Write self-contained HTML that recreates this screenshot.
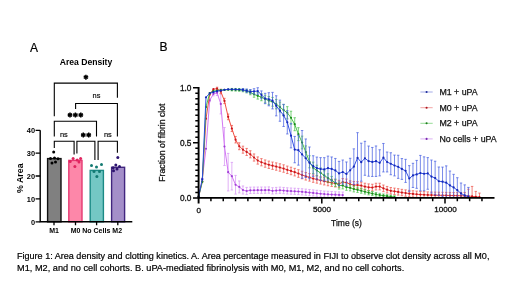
<!DOCTYPE html>
<html><head><meta charset="utf-8"><style>
html,body{margin:0;padding:0;background:#fff;width:520px;height:291px;overflow:hidden}
svg{display:block;filter:blur(0.3px)}
text{font-family:"Liberation Sans",sans-serif}
</style></head><body>
<svg width="520" height="291" viewBox="0 0 520 291">
<rect width="520" height="291" fill="#fff"/>
<!-- Panel labels -->
<text x="29.9" y="51.6" font-size="12" fill="#000" stroke="#000" stroke-width="0.2">A</text>
<text x="159.4" y="51.4" font-size="12" fill="#000" stroke="#000" stroke-width="0.2">B</text>
<!-- Panel A -->
<text x="86" y="64.6" font-size="8.6" font-weight="bold" text-anchor="middle">Area Density</text>
<g stroke="#000" stroke-width="1.1" fill="none">
<path d="M54.3 116.3V83.1H117.4V97.8"/>
<path d="M75.6 109V103.5H117.4V136.6"/>
<path d="M54.3 136.4V121.2H96.5V136.4"/>
<path d="M54.3 147.9V141.3H74.1V154.4"/>
<path d="M76.9 153.6V141.3H94.9V160.1"/>
<path d="M98.1 160.1V141.3H117.4V152.8"/>
</g>
<g font-size="7.4" text-anchor="middle" fill="#000" stroke="#000" stroke-width="0.15">
<text x="96.5" y="98.4">ns</text>
<text x="63.8" y="137">ns</text>
<text x="107.9" y="137">ns</text>
</g>
<path d="M85.90 74.70L85.90 79.70M83.73 75.95L88.07 78.45M83.73 78.45L88.07 75.95M70.00 112.50L70.00 117.50M67.83 113.75L72.17 116.25M67.83 116.25L72.17 113.75M75.40 112.50L75.40 117.50M73.23 113.75L77.57 116.25M73.23 116.25L77.57 113.75M80.80 112.50L80.80 117.50M78.63 113.75L82.97 116.25M78.63 116.25L82.97 113.75M83.30 132.50L83.30 137.50M81.13 133.75L85.47 136.25M81.13 136.25L85.47 133.75M88.70 132.50L88.70 137.50M86.53 133.75L90.87 136.25M86.53 136.25L90.87 133.75" stroke="#000" stroke-width="1.5" fill="none"/>
<!-- bars -->
<g stroke-width="1.4">
<rect x="47.6" y="158.6" width="13.4" height="63.2" fill="#808080" stroke="#111"/>
<rect x="68.8" y="160.4" width="13.2" height="61.4" fill="#fd87a9" stroke="#e63a73"/>
<rect x="90.2" y="170.4" width="13.2" height="51.4" fill="#74c7c4" stroke="#1b8a85"/>
<rect x="111.6" y="167.3" width="13" height="54.5" fill="#a48fc9" stroke="#42267f"/>
</g>
<!-- dots -->
<g fill="#000"><circle cx="53.7" cy="152" r="1.5"/><circle cx="50.5" cy="158.5" r="1.5"/><circle cx="54.5" cy="158" r="1.5"/><circle cx="58" cy="158.8" r="1.5"/><circle cx="52" cy="163" r="1.5"/><circle cx="55.5" cy="162" r="1.5"/></g>
<g fill="#e0245f"><circle cx="73.1" cy="158.5" r="1.5"/><circle cx="77.2" cy="159.9" r="1.5"/><circle cx="80.6" cy="158.5" r="1.5"/><circle cx="70.2" cy="161.5" r="1.5"/><circle cx="74.9" cy="166.5" r="1.5"/><circle cx="79" cy="162" r="1.5"/></g>
<g fill="#137a72"><circle cx="91.5" cy="165.4" r="1.5"/><circle cx="96.5" cy="167" r="1.5"/><circle cx="101.5" cy="164.6" r="1.5"/><circle cx="96.9" cy="176.5" r="1.5"/><circle cx="94" cy="171.5" r="1.5"/><circle cx="99.5" cy="171.5" r="1.5"/></g>
<g fill="#2e1570"><circle cx="117.8" cy="157.6" r="1.5"/><circle cx="115.8" cy="165" r="1.5"/><circle cx="113.1" cy="167.7" r="1.5"/><circle cx="119.5" cy="166.5" r="1.5"/><circle cx="113.5" cy="170.8" r="1.5"/><circle cx="117" cy="169" r="1.5"/></g>
<!-- axes A -->
<path d="M40.2 130.3V221.8H132.3" stroke="#000" stroke-width="1.4" fill="none"/>
<path d="M35.6 130.3H40.2M35.6 153.2H40.2M35.6 176H40.2M35.6 198.9H40.2M35.6 221.8H40.2M54 221.8V225.2M75.5 221.8V225.2M96.6 221.8V225.2M117.8 221.8V225.2" stroke="#000" stroke-width="1.3" fill="none"/>
<g font-size="7.4" font-weight="bold" text-anchor="end" fill="#000">
<text x="35" y="133">40</text><text x="35" y="155.9">30</text><text x="35" y="178.7">20</text><text x="35" y="201.6">10</text><text x="35" y="224.5">0</text>
</g>
<g font-size="7" font-weight="bold" text-anchor="middle" fill="#000">
<text x="54" y="233.1">M1</text><text x="75.6" y="233.1">M0</text><text x="96.3" y="233.1">No Cells</text><text x="117.2" y="233.1">M2</text>
</g>
<text transform="translate(22.8,178.2) rotate(-90)" font-size="8.8" font-weight="bold" text-anchor="middle">% Area</text>
<!-- Panel B -->
<path d="M209.69 99.01V101.68M208.49 99.01h2.4M208.49 101.68h2.4M213.38 92.12V95.81M212.18 92.12h2.4M212.18 95.81h2.4M217.08 89.96V95.50M215.88 89.96h2.4M215.88 95.50h2.4M220.78 93.83V113.93M219.58 93.83h2.4M219.58 113.93h2.4M224.47 127.52V165.52M223.27 127.52h2.4M223.27 165.52h2.4M228.17 153.40V190.95M226.97 153.40h2.4M226.97 190.95h2.4M231.86 162.40V190.00M230.66 162.40h2.4M230.66 190.00h2.4M235.56 175.40V194.10M234.36 175.40h2.4M234.36 194.10h2.4M239.26 180.96V192.90M238.06 180.96h2.4M238.06 192.90h2.4M242.95 185.99V194.04M241.75 185.99h2.4M241.75 194.04h2.4M246.65 187.40V194.57M245.45 187.40h2.4M245.45 194.57h2.4M250.34 187.13V193.53M249.14 187.13h2.4M249.14 193.53h2.4M254.04 187.06V193.44M252.84 187.06h2.4M252.84 193.44h2.4M257.74 187.02V193.38M256.54 187.02h2.4M256.54 193.38h2.4M261.43 187.03V193.37M260.23 187.03h2.4M260.23 193.37h2.4M265.13 187.01V193.34M263.93 187.01h2.4M263.93 193.34h2.4M268.82 186.89V193.21M267.62 186.89h2.4M267.62 193.21h2.4M272.52 187.71V194.01M271.32 187.71h2.4M271.32 194.01h2.4M276.22 187.40V193.69M275.02 187.40h2.4M275.02 193.69h2.4M279.91 187.10V193.36M278.71 187.10h2.4M278.71 193.36h2.4M283.61 187.45V193.70M282.41 187.45h2.4M282.41 193.70h2.4M287.30 187.79V194.03M286.10 187.79h2.4M286.10 194.03h2.4M291.00 188.00V194.22M289.80 188.00h2.4M289.80 194.22h2.4M294.70 188.21V194.41M293.50 188.21h2.4M293.50 194.41h2.4M298.39 188.42V194.61M297.19 188.42h2.4M297.19 194.61h2.4M302.09 188.72V194.89M300.89 188.72h2.4M300.89 194.89h2.4M305.78 189.10V195.25M304.58 189.10h2.4M304.58 195.25h2.4M309.48 189.48V195.62M308.28 189.48h2.4M308.28 195.62h2.4M313.18 189.88V196.00M311.98 189.88h2.4M311.98 196.00h2.4M316.87 190.28V196.38M315.67 190.28h2.4M315.67 196.38h2.4M320.57 190.68V196.77M319.37 190.68h2.4M319.37 196.77h2.4M324.26 191.09V197.16M323.06 191.09h2.4M323.06 197.16h2.4M327.96 191.32V197.37M326.76 191.32h2.4M326.76 197.37h2.4M331.66 191.51V197.55M330.46 191.51h2.4M335.35 191.71V197.73M334.15 191.71h2.4M339.05 191.88V197.88M337.85 191.88h2.4M342.74 192.04V197.90M341.54 192.04h2.4" stroke="#d898f4" stroke-width="0.85" fill="none" opacity="0.9"/>
<polyline points="198.60,197.60 202.30,178.52 205.99,148.77 209.69,100.35 213.38,93.97 217.08,92.73 220.78,103.88 224.47,146.52 228.17,172.17 231.86,176.20 235.56,184.75 239.26,186.93 242.95,190.01 246.65,190.99 250.34,190.33 254.04,190.25 257.74,190.20 261.43,190.20 265.13,190.17 268.82,190.05 272.52,190.86 276.22,190.54 279.91,190.23 283.61,190.57 287.30,190.91 291.00,191.11 294.70,191.31 298.39,191.51 302.09,191.81 305.78,192.18 309.48,192.55 313.18,192.94 316.87,193.33 320.57,193.73 324.26,194.12 327.96,194.35 331.66,194.53 335.35,194.72 339.05,194.88 342.74,195.04" stroke="#d070f2" stroke-width="0.95" fill="none" stroke-linejoin="round"/>
<g fill="#a040d6"><circle cx="198.60" cy="197.60" r="1.1"/><circle cx="202.30" cy="178.52" r="1.1"/><circle cx="205.99" cy="148.77" r="1.1"/><circle cx="209.69" cy="100.35" r="1.1"/><circle cx="213.38" cy="93.97" r="1.1"/><circle cx="217.08" cy="92.73" r="1.1"/><circle cx="220.78" cy="103.88" r="1.1"/><circle cx="224.47" cy="146.52" r="1.1"/><circle cx="228.17" cy="172.17" r="1.1"/><circle cx="231.86" cy="176.20" r="1.1"/><circle cx="235.56" cy="184.75" r="1.1"/><circle cx="239.26" cy="186.93" r="1.1"/><circle cx="242.95" cy="190.01" r="1.1"/><circle cx="246.65" cy="190.99" r="1.1"/><circle cx="250.34" cy="190.33" r="1.1"/><circle cx="254.04" cy="190.25" r="1.1"/><circle cx="257.74" cy="190.20" r="1.1"/><circle cx="261.43" cy="190.20" r="1.1"/><circle cx="265.13" cy="190.17" r="1.1"/><circle cx="268.82" cy="190.05" r="1.1"/><circle cx="272.52" cy="190.86" r="1.1"/><circle cx="276.22" cy="190.54" r="1.1"/><circle cx="279.91" cy="190.23" r="1.1"/><circle cx="283.61" cy="190.57" r="1.1"/><circle cx="287.30" cy="190.91" r="1.1"/><circle cx="291.00" cy="191.11" r="1.1"/><circle cx="294.70" cy="191.31" r="1.1"/><circle cx="298.39" cy="191.51" r="1.1"/><circle cx="302.09" cy="191.81" r="1.1"/><circle cx="305.78" cy="192.18" r="1.1"/><circle cx="309.48" cy="192.55" r="1.1"/><circle cx="313.18" cy="192.94" r="1.1"/><circle cx="316.87" cy="193.33" r="1.1"/><circle cx="320.57" cy="193.73" r="1.1"/><circle cx="324.26" cy="194.12" r="1.1"/><circle cx="327.96" cy="194.35" r="1.1"/><circle cx="331.66" cy="194.53" r="1.1"/><circle cx="335.35" cy="194.72" r="1.1"/><circle cx="339.05" cy="194.88" r="1.1"/><circle cx="342.74" cy="195.04" r="1.1"/></g>
<path d="M217.08 87.22V90.11M215.88 87.22h2.4M215.88 90.11h2.4M220.78 89.21V93.69M219.58 89.21h2.4M219.58 93.69h2.4M224.47 98.32V103.60M223.27 98.32h2.4M223.27 103.60h2.4M228.17 114.02V119.71M226.97 114.02h2.4M226.97 119.71h2.4M231.86 125.44V131.53M230.66 125.44h2.4M230.66 131.53h2.4M235.56 136.44V142.94M234.36 136.44h2.4M234.36 142.94h2.4M239.26 142.79V149.71M238.06 142.79h2.4M238.06 149.71h2.4M242.95 146.16V153.19M241.75 146.16h2.4M241.75 153.19h2.4M246.65 148.42V155.49M245.45 148.42h2.4M245.45 155.49h2.4M250.34 150.75V157.86M249.14 150.75h2.4M249.14 157.86h2.4M254.04 153.95V161.09M252.84 153.95h2.4M252.84 161.09h2.4M257.74 156.93V164.11M256.54 156.93h2.4M256.54 164.11h2.4M261.43 158.63V165.84M260.23 158.63h2.4M260.23 165.84h2.4M265.13 159.97V167.22M263.93 159.97h2.4M263.93 167.22h2.4M268.82 161.12V168.41M267.62 161.12h2.4M267.62 168.41h2.4M272.52 162.04V169.36M271.32 162.04h2.4M271.32 169.36h2.4M276.22 162.86V170.22M275.02 162.86h2.4M275.02 170.22h2.4M279.91 163.80V171.20M278.71 163.80h2.4M278.71 171.20h2.4M283.61 164.82V172.26M282.41 164.82h2.4M282.41 172.26h2.4M287.30 166.09V173.56M286.10 166.09h2.4M286.10 173.56h2.4M291.00 167.21V174.72M289.80 167.21h2.4M289.80 174.72h2.4M294.70 168.37V175.92M293.50 168.37h2.4M293.50 175.92h2.4M298.39 169.73V177.31M297.19 169.73h2.4M297.19 177.31h2.4M302.09 171.22V178.79M300.89 171.22h2.4M300.89 178.79h2.4M305.78 172.53V180.06M304.58 172.53h2.4M304.58 180.06h2.4M309.48 173.62V181.10M308.28 173.62h2.4M308.28 181.10h2.4M313.18 174.87V182.31M311.98 174.87h2.4M311.98 182.31h2.4M316.87 175.78V183.17M315.67 175.78h2.4M315.67 183.17h2.4M320.57 176.70V184.05M319.37 176.70h2.4M319.37 184.05h2.4M324.26 177.62V184.93M323.06 177.62h2.4M323.06 184.93h2.4M327.96 178.49V185.75M326.76 178.49h2.4M326.76 185.75h2.4M331.66 179.22V186.44M330.46 179.22h2.4M330.46 186.44h2.4M335.35 179.85V187.02M334.15 179.85h2.4M334.15 187.02h2.4M339.05 180.31V187.44M337.85 180.31h2.4M337.85 187.44h2.4M342.74 178.56V185.65M341.54 178.56h2.4M341.54 185.65h2.4M346.44 179.07V186.11M345.24 179.07h2.4M345.24 186.11h2.4M350.14 180.75V187.75M348.94 180.75h2.4M348.94 187.75h2.4M353.83 181.52V188.48M352.63 181.52h2.4M352.63 188.48h2.4M357.53 181.55V188.45M356.33 181.55h2.4M356.33 188.45h2.4M361.22 182.13V189.00M360.02 182.13h2.4M360.02 189.00h2.4M364.92 183.21V190.03M363.72 183.21h2.4M363.72 190.03h2.4M368.62 183.90V190.67M367.42 183.90h2.4M367.42 190.67h2.4M372.31 184.22V190.95M371.11 184.22h2.4M371.11 190.95h2.4M376.01 183.24V189.93M374.81 183.24h2.4M374.81 189.93h2.4M379.70 183.22V189.87M378.50 183.22h2.4M378.50 189.87h2.4M383.40 185.04V191.64M382.20 185.04h2.4M382.20 191.64h2.4M387.10 186.45V193.00M385.90 186.45h2.4M385.90 193.00h2.4M390.79 187.54V194.05M389.59 187.54h2.4M389.59 194.05h2.4M394.49 188.12V194.59M393.29 188.12h2.4M393.29 194.59h2.4M398.18 188.70V195.12M396.98 188.70h2.4M396.98 195.12h2.4M401.88 189.33V195.72M400.68 189.33h2.4M400.68 195.72h2.4M405.58 189.89V196.25M404.38 189.89h2.4M404.38 196.25h2.4M409.27 190.36V196.70M408.07 190.36h2.4M408.07 196.70h2.4M412.97 190.76V197.07M411.77 190.76h2.4M411.77 197.07h2.4M416.66 191.10V197.39M415.46 191.10h2.4M415.46 197.39h2.4M420.36 191.44V197.70M419.16 191.44h2.4M424.06 191.64V197.88M422.86 191.64h2.4M427.75 191.87V197.90M426.55 191.87h2.4M431.45 191.99V197.90M430.25 191.99h2.4M435.14 192.09V197.90M433.94 192.09h2.4M438.84 192.20V197.90M437.64 192.20h2.4M442.54 192.29V197.90M441.34 192.29h2.4M446.23 192.38V197.90M445.03 192.38h2.4M449.93 192.46V197.90M448.73 192.46h2.4M453.62 192.55V197.90M452.42 192.55h2.4M457.32 192.64V197.90M456.12 192.64h2.4M461.02 192.64V197.90M459.82 192.64h2.4M464.71 192.41V197.90M463.51 192.41h2.4M468.41 189.23V197.90M467.21 189.23h2.4M472.10 186.42V197.90M470.90 186.42h2.4M475.80 191.40V197.90M474.60 191.40h2.4M479.50 193.10V197.90M478.30 193.10h2.4" stroke="#ee5a50" stroke-width="0.85" fill="none" opacity="0.9"/>
<polyline points="198.60,196.64 202.30,181.56 205.99,118.70 209.69,94.70 213.38,89.14 217.08,88.67 220.78,91.45 224.47,100.96 228.17,116.86 231.86,128.48 235.56,139.69 239.26,146.25 242.95,149.68 246.65,151.96 250.34,154.30 254.04,157.52 257.74,160.52 261.43,162.24 265.13,163.59 268.82,164.76 272.52,165.70 276.22,166.54 279.91,167.50 283.61,168.54 287.30,169.83 291.00,170.97 294.70,172.15 298.39,173.52 302.09,175.01 305.78,176.29 309.48,177.36 313.18,178.59 316.87,179.47 320.57,180.37 324.26,181.27 327.96,182.12 331.66,182.83 335.35,183.44 339.05,183.88 342.74,182.11 346.44,182.59 350.14,184.25 353.83,185.00 357.53,185.00 361.22,185.56 364.92,186.62 368.62,187.28 372.31,187.59 376.01,186.58 379.70,186.55 383.40,188.34 387.10,189.72 390.79,190.80 394.49,191.35 398.18,191.91 401.88,192.53 405.58,193.07 409.27,193.53 412.97,193.92 416.66,194.25 420.36,194.57 424.06,194.76 427.75,194.97 431.45,195.08 435.14,195.18 438.84,195.27 442.54,195.35 446.23,195.42 449.93,195.50 453.62,195.57 457.32,195.65 461.02,195.74 464.71,195.88 468.41,196.04 472.10,196.41 475.80,196.78 479.50,197.13" stroke="#f0473a" stroke-width="0.95" fill="none" stroke-linejoin="round"/>
<g fill="#c8141c"><circle cx="198.60" cy="196.64" r="1.1"/><circle cx="202.30" cy="181.56" r="1.1"/><circle cx="205.99" cy="118.70" r="1.1"/><circle cx="209.69" cy="94.70" r="1.1"/><circle cx="213.38" cy="89.14" r="1.1"/><circle cx="217.08" cy="88.67" r="1.1"/><circle cx="220.78" cy="91.45" r="1.1"/><circle cx="224.47" cy="100.96" r="1.1"/><circle cx="228.17" cy="116.86" r="1.1"/><circle cx="231.86" cy="128.48" r="1.1"/><circle cx="235.56" cy="139.69" r="1.1"/><circle cx="239.26" cy="146.25" r="1.1"/><circle cx="242.95" cy="149.68" r="1.1"/><circle cx="246.65" cy="151.96" r="1.1"/><circle cx="250.34" cy="154.30" r="1.1"/><circle cx="254.04" cy="157.52" r="1.1"/><circle cx="257.74" cy="160.52" r="1.1"/><circle cx="261.43" cy="162.24" r="1.1"/><circle cx="265.13" cy="163.59" r="1.1"/><circle cx="268.82" cy="164.76" r="1.1"/><circle cx="272.52" cy="165.70" r="1.1"/><circle cx="276.22" cy="166.54" r="1.1"/><circle cx="279.91" cy="167.50" r="1.1"/><circle cx="283.61" cy="168.54" r="1.1"/><circle cx="287.30" cy="169.83" r="1.1"/><circle cx="291.00" cy="170.97" r="1.1"/><circle cx="294.70" cy="172.15" r="1.1"/><circle cx="298.39" cy="173.52" r="1.1"/><circle cx="302.09" cy="175.01" r="1.1"/><circle cx="305.78" cy="176.29" r="1.1"/><circle cx="309.48" cy="177.36" r="1.1"/><circle cx="313.18" cy="178.59" r="1.1"/><circle cx="316.87" cy="179.47" r="1.1"/><circle cx="320.57" cy="180.37" r="1.1"/><circle cx="324.26" cy="181.27" r="1.1"/><circle cx="327.96" cy="182.12" r="1.1"/><circle cx="331.66" cy="182.83" r="1.1"/><circle cx="335.35" cy="183.44" r="1.1"/><circle cx="339.05" cy="183.88" r="1.1"/><circle cx="342.74" cy="182.11" r="1.1"/><circle cx="346.44" cy="182.59" r="1.1"/><circle cx="350.14" cy="184.25" r="1.1"/><circle cx="353.83" cy="185.00" r="1.1"/><circle cx="357.53" cy="185.00" r="1.1"/><circle cx="361.22" cy="185.56" r="1.1"/><circle cx="364.92" cy="186.62" r="1.1"/><circle cx="368.62" cy="187.28" r="1.1"/><circle cx="372.31" cy="187.59" r="1.1"/><circle cx="376.01" cy="186.58" r="1.1"/><circle cx="379.70" cy="186.55" r="1.1"/><circle cx="383.40" cy="188.34" r="1.1"/><circle cx="387.10" cy="189.72" r="1.1"/><circle cx="390.79" cy="190.80" r="1.1"/><circle cx="394.49" cy="191.35" r="1.1"/><circle cx="398.18" cy="191.91" r="1.1"/><circle cx="401.88" cy="192.53" r="1.1"/><circle cx="405.58" cy="193.07" r="1.1"/><circle cx="409.27" cy="193.53" r="1.1"/><circle cx="412.97" cy="193.92" r="1.1"/><circle cx="416.66" cy="194.25" r="1.1"/><circle cx="420.36" cy="194.57" r="1.1"/><circle cx="424.06" cy="194.76" r="1.1"/><circle cx="427.75" cy="194.97" r="1.1"/><circle cx="431.45" cy="195.08" r="1.1"/><circle cx="435.14" cy="195.18" r="1.1"/><circle cx="438.84" cy="195.27" r="1.1"/><circle cx="442.54" cy="195.35" r="1.1"/><circle cx="446.23" cy="195.42" r="1.1"/><circle cx="449.93" cy="195.50" r="1.1"/><circle cx="453.62" cy="195.57" r="1.1"/><circle cx="457.32" cy="195.65" r="1.1"/><circle cx="461.02" cy="195.74" r="1.1"/><circle cx="464.71" cy="195.88" r="1.1"/><circle cx="468.41" cy="196.04" r="1.1"/><circle cx="472.10" cy="196.41" r="1.1"/><circle cx="475.80" cy="196.78" r="1.1"/><circle cx="479.50" cy="197.13" r="1.1"/></g>
<path d="M231.86 88.44V90.88M230.66 88.44h2.4M230.66 90.88h2.4M235.56 88.47V91.07M234.36 88.47h2.4M234.36 91.07h2.4M239.26 88.50V91.26M238.06 88.50h2.4M238.06 91.26h2.4M242.95 88.86V91.77M241.75 88.86h2.4M241.75 91.77h2.4M246.65 89.41V92.91M245.45 89.41h2.4M245.45 92.91h2.4M250.34 90.17V94.78M249.14 90.17h2.4M249.14 94.78h2.4M254.04 91.51V97.23M252.84 91.51h2.4M252.84 97.23h2.4M257.74 92.63V99.07M256.54 92.63h2.4M256.54 99.07h2.4M261.43 93.70V100.73M260.23 93.70h2.4M260.23 100.73h2.4M265.13 95.24V102.86M263.93 95.24h2.4M263.93 102.86h2.4M268.82 96.46V104.67M267.62 96.46h2.4M267.62 104.67h2.4M272.52 97.40V106.21M271.32 97.40h2.4M271.32 106.21h2.4M276.22 99.44V108.84M275.02 99.44h2.4M275.02 108.84h2.4M279.91 102.07V112.05M278.71 102.07h2.4M278.71 112.05h2.4M283.61 104.58V115.66M282.41 104.58h2.4M282.41 115.66h2.4M287.30 106.67V118.86M286.10 106.67h2.4M286.10 118.86h2.4M291.00 111.23V124.23M289.80 111.23h2.4M289.80 124.23h2.4M294.70 117.72V130.72M293.50 117.72h2.4M293.50 130.72h2.4M298.39 127.68V140.68M297.19 127.68h2.4M297.19 140.68h2.4M302.09 136.12V148.91M300.89 136.12h2.4M300.89 148.91h2.4M305.78 145.88V158.30M304.58 145.88h2.4M304.58 158.30h2.4M309.48 155.77V167.82M308.28 155.77h2.4M308.28 167.82h2.4M313.18 162.16V173.52M311.98 162.16h2.4M311.98 173.52h2.4M316.87 165.21V175.83M315.67 165.21h2.4M315.67 175.83h2.4M320.57 167.89V177.78M319.37 167.89h2.4M319.37 177.78h2.4M324.26 170.89V180.03M323.06 170.89h2.4M323.06 180.03h2.4M327.96 173.78V182.19M326.76 173.78h2.4M326.76 182.19h2.4M331.66 176.43V184.27M330.46 176.43h2.4M330.46 184.27h2.4M335.35 179.05V186.51M334.15 179.05h2.4M334.15 186.51h2.4M339.05 181.95V189.05M337.85 181.95h2.4M337.85 189.05h2.4M342.74 182.16V188.88M341.54 182.16h2.4M341.54 188.88h2.4M346.44 184.00V190.35M345.24 184.00h2.4M345.24 190.35h2.4M350.14 184.86V190.85M348.94 184.86h2.4M348.94 190.85h2.4M353.83 186.30V191.91M352.63 186.30h2.4M352.63 191.91h2.4M357.53 187.16V192.41M356.33 187.16h2.4M356.33 192.41h2.4M361.22 188.30V193.21M360.02 188.30h2.4M360.02 193.21h2.4M364.92 189.42V194.05M363.72 189.42h2.4M363.72 194.05h2.4M368.62 190.50V194.86M367.42 190.50h2.4M367.42 194.86h2.4M372.31 191.52V195.59M371.11 191.52h2.4M371.11 195.59h2.4M376.01 192.46V196.26M374.81 192.46h2.4M374.81 196.26h2.4M379.70 193.34V196.86M378.50 193.34h2.4M378.50 196.86h2.4M383.40 194.02V197.26M382.20 194.02h2.4M382.20 197.26h2.4M387.10 194.65V197.62M385.90 194.65h2.4M390.79 195.22V197.90M389.59 195.22h2.4M394.49 195.78V197.90M393.29 195.78h2.4" stroke="#50c450" stroke-width="0.85" fill="none" opacity="0.9"/>
<polyline points="198.60,196.69 202.30,181.85 205.99,106.98 209.69,93.05 213.38,91.20 217.08,90.49 220.78,90.03 224.47,89.91 228.17,89.71 231.86,89.66 235.56,89.77 239.26,89.88 242.95,90.31 246.65,91.16 250.34,92.48 254.04,94.37 257.74,95.85 261.43,97.22 265.13,99.05 268.82,100.57 272.52,101.81 276.22,104.14 279.91,107.06 283.61,110.12 287.30,112.77 291.00,117.73 294.70,124.22 298.39,134.18 302.09,142.51 305.78,152.09 309.48,161.79 313.18,167.84 316.87,170.52 320.57,172.83 324.26,175.46 327.96,177.99 331.66,180.35 335.35,182.78 339.05,185.50 342.74,185.52 346.44,187.17 350.14,187.85 353.83,189.11 357.53,189.79 361.22,190.75 364.92,191.73 368.62,192.68 372.31,193.56 376.01,194.36 379.70,195.10 383.40,195.64 387.10,196.14 390.79,196.57 394.49,196.98" stroke="#3fbf3f" stroke-width="0.95" fill="none" stroke-linejoin="round"/>
<g fill="#1a8a1a"><circle cx="198.60" cy="196.69" r="1.1"/><circle cx="202.30" cy="181.85" r="1.1"/><circle cx="205.99" cy="106.98" r="1.1"/><circle cx="209.69" cy="93.05" r="1.1"/><circle cx="213.38" cy="91.20" r="1.1"/><circle cx="217.08" cy="90.49" r="1.1"/><circle cx="220.78" cy="90.03" r="1.1"/><circle cx="224.47" cy="89.91" r="1.1"/><circle cx="228.17" cy="89.71" r="1.1"/><circle cx="231.86" cy="89.66" r="1.1"/><circle cx="235.56" cy="89.77" r="1.1"/><circle cx="239.26" cy="89.88" r="1.1"/><circle cx="242.95" cy="90.31" r="1.1"/><circle cx="246.65" cy="91.16" r="1.1"/><circle cx="250.34" cy="92.48" r="1.1"/><circle cx="254.04" cy="94.37" r="1.1"/><circle cx="257.74" cy="95.85" r="1.1"/><circle cx="261.43" cy="97.22" r="1.1"/><circle cx="265.13" cy="99.05" r="1.1"/><circle cx="268.82" cy="100.57" r="1.1"/><circle cx="272.52" cy="101.81" r="1.1"/><circle cx="276.22" cy="104.14" r="1.1"/><circle cx="279.91" cy="107.06" r="1.1"/><circle cx="283.61" cy="110.12" r="1.1"/><circle cx="287.30" cy="112.77" r="1.1"/><circle cx="291.00" cy="117.73" r="1.1"/><circle cx="294.70" cy="124.22" r="1.1"/><circle cx="298.39" cy="134.18" r="1.1"/><circle cx="302.09" cy="142.51" r="1.1"/><circle cx="305.78" cy="152.09" r="1.1"/><circle cx="309.48" cy="161.79" r="1.1"/><circle cx="313.18" cy="167.84" r="1.1"/><circle cx="316.87" cy="170.52" r="1.1"/><circle cx="320.57" cy="172.83" r="1.1"/><circle cx="324.26" cy="175.46" r="1.1"/><circle cx="327.96" cy="177.99" r="1.1"/><circle cx="331.66" cy="180.35" r="1.1"/><circle cx="335.35" cy="182.78" r="1.1"/><circle cx="339.05" cy="185.50" r="1.1"/><circle cx="342.74" cy="185.52" r="1.1"/><circle cx="346.44" cy="187.17" r="1.1"/><circle cx="350.14" cy="187.85" r="1.1"/><circle cx="353.83" cy="189.11" r="1.1"/><circle cx="357.53" cy="189.79" r="1.1"/><circle cx="361.22" cy="190.75" r="1.1"/><circle cx="364.92" cy="191.73" r="1.1"/><circle cx="368.62" cy="192.68" r="1.1"/><circle cx="372.31" cy="193.56" r="1.1"/><circle cx="376.01" cy="194.36" r="1.1"/><circle cx="379.70" cy="195.10" r="1.1"/><circle cx="383.40" cy="195.64" r="1.1"/><circle cx="387.10" cy="196.14" r="1.1"/><circle cx="390.79" cy="196.57" r="1.1"/><circle cx="394.49" cy="196.98" r="1.1"/></g>
<path d="M242.95 88.52V91.11M241.75 88.52h2.4M241.75 91.11h2.4M246.65 89.01V92.34M245.45 89.01h2.4M245.45 92.34h2.4M250.34 89.53V93.64M249.14 89.53h2.4M249.14 93.64h2.4M254.04 88.73V94.08M252.84 88.73h2.4M252.84 94.08h2.4M257.74 87.75V94.33M256.54 87.75h2.4M256.54 94.33h2.4M261.43 90.93V98.74M260.23 90.93h2.4M260.23 98.74h2.4M265.13 93.33V103.68M263.93 93.33h2.4M263.93 103.68h2.4M268.82 92.69V105.81M267.62 92.69h2.4M267.62 105.81h2.4M272.52 92.37V108.89M271.32 92.37h2.4M271.32 108.89h2.4M276.22 95.79V115.85M275.02 95.79h2.4M275.02 115.85h2.4M279.91 100.13V121.24M278.71 100.13h2.4M278.71 121.24h2.4M283.61 104.30V126.47M282.41 104.30h2.4M282.41 126.47h2.4M287.30 110.72V133.95M286.10 110.72h2.4M286.10 133.95h2.4M291.00 123.38V147.88M289.80 123.38h2.4M289.80 147.88h2.4M294.70 136.43V162.78M293.50 136.43h2.4M293.50 162.78h2.4M298.39 135.19V165.15M297.19 135.19h2.4M297.19 165.15h2.4M302.09 130.52V178.29M300.89 130.52h2.4M300.89 178.29h2.4M305.78 138.99V177.48M304.58 138.99h2.4M304.58 177.48h2.4M309.48 147.00V178.74M308.28 147.00h2.4M308.28 178.74h2.4M313.18 155.76V176.43M311.98 155.76h2.4M311.98 176.43h2.4M316.87 157.08V179.15M315.67 157.08h2.4M315.67 179.15h2.4M320.57 157.64V180.38M319.37 157.64h2.4M319.37 180.38h2.4M324.26 157.69V181.10M323.06 157.69h2.4M323.06 181.10h2.4M327.96 156.11V180.11M326.76 156.11h2.4M326.76 180.11h2.4M331.66 156.97V180.97M330.46 156.97h2.4M330.46 180.97h2.4M335.35 158.44V182.44M334.15 158.44h2.4M334.15 182.44h2.4M339.05 161.40V185.40M337.85 161.40h2.4M337.85 185.40h2.4M342.74 160.02V184.02M341.54 160.02h2.4M341.54 184.02h2.4M346.44 161.97V185.97M345.24 161.97h2.4M345.24 185.97h2.4M350.14 158.29V182.29M348.94 158.29h2.4M348.94 182.29h2.4M353.83 148.86V184.41M352.63 148.86h2.4M352.63 184.41h2.4M357.53 132.66V183.17M356.33 132.66h2.4M356.33 183.17h2.4M361.22 143.20V181.17M360.02 143.20h2.4M360.02 181.17h2.4M364.92 141.30V175.28M363.72 141.30h2.4M363.72 175.28h2.4M368.62 146.04V176.23M367.42 146.04h2.4M367.42 176.23h2.4M372.31 147.44V176.48M371.11 147.44h2.4M371.11 176.48h2.4M376.01 145.97V176.44M374.81 145.97h2.4M374.81 176.44h2.4M379.70 149.76V175.87M378.50 149.76h2.4M378.50 175.87h2.4M383.40 143.47V171.93M382.20 143.47h2.4M382.20 171.93h2.4M387.10 152.04V171.95M385.90 152.04h2.4M385.90 171.95h2.4M390.79 152.75V174.74M389.59 152.75h2.4M389.59 174.74h2.4M394.49 155.08V175.91M393.29 155.08h2.4M393.29 175.91h2.4M398.18 155.25V178.37M396.98 155.25h2.4M396.98 178.37h2.4M401.88 158.55V179.39M400.68 158.55h2.4M400.68 179.39h2.4M405.58 159.33V182.41M404.38 159.33h2.4M404.38 182.41h2.4M409.27 165.64V191.40M408.07 165.64h2.4M408.07 191.40h2.4M412.97 163.30V187.47M411.77 163.30h2.4M411.77 187.47h2.4M416.66 160.41V188.34M415.46 160.41h2.4M415.46 188.34h2.4M420.36 155.42V190.80M419.16 155.42h2.4M419.16 190.80h2.4M424.06 156.85V190.69M422.86 156.85h2.4M422.86 190.69h2.4M427.75 157.60V189.26M426.55 157.60h2.4M426.55 189.26h2.4M431.45 160.04V193.07M430.25 160.04h2.4M430.25 193.07h2.4M435.14 161.23V194.83M433.94 161.23h2.4M433.94 194.83h2.4M438.84 167.01V195.49M437.64 167.01h2.4M437.64 195.49h2.4M442.54 167.10V196.29M441.34 167.10h2.4M441.34 196.29h2.4M446.23 165.89V197.90M445.03 165.89h2.4M449.93 171.03V197.90M448.73 171.03h2.4M453.62 174.33V197.90M452.42 174.33h2.4M457.32 177.73V197.90M456.12 177.73h2.4M461.02 183.03V197.90M459.82 183.03h2.4M464.71 184.87V197.90M463.51 184.87h2.4M468.41 187.42V197.90M467.21 187.42h2.4" stroke="#4c64e2" stroke-width="0.85" fill="none" opacity="0.9"/>
<polyline points="198.60,196.58 202.30,179.42 205.99,97.29 209.69,93.34 213.38,92.15 217.08,91.22 220.78,90.58 224.47,89.76 228.17,89.30 231.86,89.35 235.56,89.39 239.26,89.51 242.95,89.81 246.65,90.68 250.34,91.58 254.04,91.40 257.74,91.04 261.43,94.83 265.13,98.51 268.82,99.25 272.52,100.63 276.22,105.82 279.91,110.68 283.61,115.38 287.30,122.33 291.00,135.63 294.70,149.61 298.39,150.17 302.09,154.40 305.78,158.23 309.48,162.87 313.18,166.10 316.87,168.12 320.57,169.01 324.26,169.40 327.96,168.11 331.66,168.97 335.35,170.44 339.05,173.40 342.74,172.02 346.44,173.97 350.14,170.29 353.83,166.63 357.53,157.92 361.22,162.18 364.92,158.29 368.62,161.13 372.31,161.96 376.01,161.20 379.70,162.81 383.40,157.70 387.10,162.00 390.79,163.74 394.49,165.49 398.18,166.81 401.88,168.97 405.58,170.87 409.27,178.52 412.97,175.39 416.66,174.38 420.36,173.11 424.06,173.77 427.75,173.43 431.45,176.56 435.14,178.03 438.84,181.25 442.54,181.69 446.23,182.63 449.93,185.42 453.62,187.46 457.32,190.17 461.02,193.44 464.71,195.45 468.41,196.50" stroke="#2848e0" stroke-width="0.95" fill="none" stroke-linejoin="round"/>
<g fill="#1428b8"><circle cx="198.60" cy="196.58" r="1.1"/><circle cx="202.30" cy="179.42" r="1.1"/><circle cx="205.99" cy="97.29" r="1.1"/><circle cx="209.69" cy="93.34" r="1.1"/><circle cx="213.38" cy="92.15" r="1.1"/><circle cx="217.08" cy="91.22" r="1.1"/><circle cx="220.78" cy="90.58" r="1.1"/><circle cx="224.47" cy="89.76" r="1.1"/><circle cx="228.17" cy="89.30" r="1.1"/><circle cx="231.86" cy="89.35" r="1.1"/><circle cx="235.56" cy="89.39" r="1.1"/><circle cx="239.26" cy="89.51" r="1.1"/><circle cx="242.95" cy="89.81" r="1.1"/><circle cx="246.65" cy="90.68" r="1.1"/><circle cx="250.34" cy="91.58" r="1.1"/><circle cx="254.04" cy="91.40" r="1.1"/><circle cx="257.74" cy="91.04" r="1.1"/><circle cx="261.43" cy="94.83" r="1.1"/><circle cx="265.13" cy="98.51" r="1.1"/><circle cx="268.82" cy="99.25" r="1.1"/><circle cx="272.52" cy="100.63" r="1.1"/><circle cx="276.22" cy="105.82" r="1.1"/><circle cx="279.91" cy="110.68" r="1.1"/><circle cx="283.61" cy="115.38" r="1.1"/><circle cx="287.30" cy="122.33" r="1.1"/><circle cx="291.00" cy="135.63" r="1.1"/><circle cx="294.70" cy="149.61" r="1.1"/><circle cx="298.39" cy="150.17" r="1.1"/><circle cx="302.09" cy="154.40" r="1.1"/><circle cx="305.78" cy="158.23" r="1.1"/><circle cx="309.48" cy="162.87" r="1.1"/><circle cx="313.18" cy="166.10" r="1.1"/><circle cx="316.87" cy="168.12" r="1.1"/><circle cx="320.57" cy="169.01" r="1.1"/><circle cx="324.26" cy="169.40" r="1.1"/><circle cx="327.96" cy="168.11" r="1.1"/><circle cx="331.66" cy="168.97" r="1.1"/><circle cx="335.35" cy="170.44" r="1.1"/><circle cx="339.05" cy="173.40" r="1.1"/><circle cx="342.74" cy="172.02" r="1.1"/><circle cx="346.44" cy="173.97" r="1.1"/><circle cx="350.14" cy="170.29" r="1.1"/><circle cx="353.83" cy="166.63" r="1.1"/><circle cx="357.53" cy="157.92" r="1.1"/><circle cx="361.22" cy="162.18" r="1.1"/><circle cx="364.92" cy="158.29" r="1.1"/><circle cx="368.62" cy="161.13" r="1.1"/><circle cx="372.31" cy="161.96" r="1.1"/><circle cx="376.01" cy="161.20" r="1.1"/><circle cx="379.70" cy="162.81" r="1.1"/><circle cx="383.40" cy="157.70" r="1.1"/><circle cx="387.10" cy="162.00" r="1.1"/><circle cx="390.79" cy="163.74" r="1.1"/><circle cx="394.49" cy="165.49" r="1.1"/><circle cx="398.18" cy="166.81" r="1.1"/><circle cx="401.88" cy="168.97" r="1.1"/><circle cx="405.58" cy="170.87" r="1.1"/><circle cx="409.27" cy="178.52" r="1.1"/><circle cx="412.97" cy="175.39" r="1.1"/><circle cx="416.66" cy="174.38" r="1.1"/><circle cx="420.36" cy="173.11" r="1.1"/><circle cx="424.06" cy="173.77" r="1.1"/><circle cx="427.75" cy="173.43" r="1.1"/><circle cx="431.45" cy="176.56" r="1.1"/><circle cx="435.14" cy="178.03" r="1.1"/><circle cx="438.84" cy="181.25" r="1.1"/><circle cx="442.54" cy="181.69" r="1.1"/><circle cx="446.23" cy="182.63" r="1.1"/><circle cx="449.93" cy="185.42" r="1.1"/><circle cx="453.62" cy="187.46" r="1.1"/><circle cx="457.32" cy="190.17" r="1.1"/><circle cx="461.02" cy="193.44" r="1.1"/><circle cx="464.71" cy="195.45" r="1.1"/><circle cx="468.41" cy="196.50" r="1.1"/></g>
<path d="M198.6 86.9V203.5M197.6 197.9H494.5" stroke="#000" stroke-width="1.9" fill="none"/>
<path d="M193 197.90H198.6M195.3 192.39H198.6M195.3 186.88H198.6M195.3 181.37H198.6M195.3 175.86H198.6M195.3 170.35H198.6M195.3 164.84H198.6M195.3 159.33H198.6M195.3 153.82H198.6M195.3 148.31H198.6M193 142.80H198.6M195.3 137.29H198.6M195.3 131.78H198.6M195.3 126.27H198.6M195.3 120.76H198.6M195.3 115.25H198.6M195.3 109.74H198.6M195.3 104.23H198.6M195.3 98.72H198.6M195.3 93.21H198.6M193 87.70H198.6" stroke="#000" stroke-width="1.5" fill="none"/>
<path d="M210.92 197.9V201.2M223.24 197.9V201.2M235.56 197.9V201.2M247.88 197.9V201.2M260.20 197.9V201.2M272.52 197.9V201.2M284.84 197.9V201.2M297.16 197.9V201.2M309.48 197.9V201.2M321.80 197.9V203.5M334.12 197.9V201.2M346.44 197.9V201.2M358.76 197.9V201.2M371.08 197.9V201.2M383.40 197.9V201.2M395.72 197.9V201.2M408.04 197.9V201.2M420.36 197.9V201.2M432.68 197.9V201.2M445.00 197.9V203.5M457.32 197.9V201.2M469.64 197.9V201.2M481.96 197.9V201.2" stroke="#000" stroke-width="1.5" fill="none"/>
<g font-size="8.3" text-anchor="end" fill="#111" stroke="#111" stroke-width="0.3">
<text x="191.5" y="91.2">1.0</text><text x="191.5" y="145.8">0.5</text><text x="191.5" y="200.9">0.0</text>
</g>
<g font-size="8.1" text-anchor="middle" fill="#111" stroke="#111" stroke-width="0.3">
<text x="198.8" y="212.5">0</text><text x="321.9" y="212.4">5000</text><text x="445.4" y="212.4">10000</text>
</g>
<text x="346.5" y="226.2" font-size="8.5" text-anchor="middle" fill="#111" stroke="#111" stroke-width="0.25">Time (s)</text>
<text transform="translate(165.4,142.6) rotate(-90)" font-size="8.7" text-anchor="middle" fill="#111" stroke="#111" stroke-width="0.25">Fraction of fibrin clot</text>
<!-- legend -->
<g stroke-width="0.9" fill="none">
<path d="M420.4 92H432.7" stroke="#9aa2e4"/>
<path d="M420.4 107.7H432.7" stroke="#f29a9a"/>
<path d="M420.4 123.3H432.7" stroke="#8ad88a"/>
<path d="M420.4 138.9H432.7" stroke="#d8a8f2"/>
</g>
<circle cx="426.6" cy="92" r="1.05" fill="#1a2a9a"/>
<circle cx="426.6" cy="107.7" r="1.05" fill="#a8141c"/>
<circle cx="426.6" cy="123.3" r="1.05" fill="#1a7a1a"/>
<circle cx="426.6" cy="138.9" r="1.05" fill="#7a28b0"/>
<g font-size="8.8" fill="#111" stroke="#111" stroke-width="0.25">
<text x="439.4" y="95.1">M1 + uPA</text>
<text x="439.4" y="110.8">M0 + uPA</text>
<text x="439.4" y="126.4">M2 + uPA</text>
<text x="439.4" y="142">No cells + uPA</text>
</g>
<!-- caption -->
<g font-size="9.1" fill="#000" stroke="#000" stroke-width="0.2">
<text x="17" y="258.8" textLength="472.4" lengthAdjust="spacingAndGlyphs">Figure 1: Area density and clotting kinetics. A. Area percentage measured in FIJI to observe clot density across all M0,</text>
<text x="17" y="270.6" textLength="387.2" lengthAdjust="spacingAndGlyphs">M1, M2, and no cell cohorts. B. uPA-mediated fibrinolysis with M0, M1, M2, and no cell cohorts.</text>
</g>
</svg>
</body></html>
